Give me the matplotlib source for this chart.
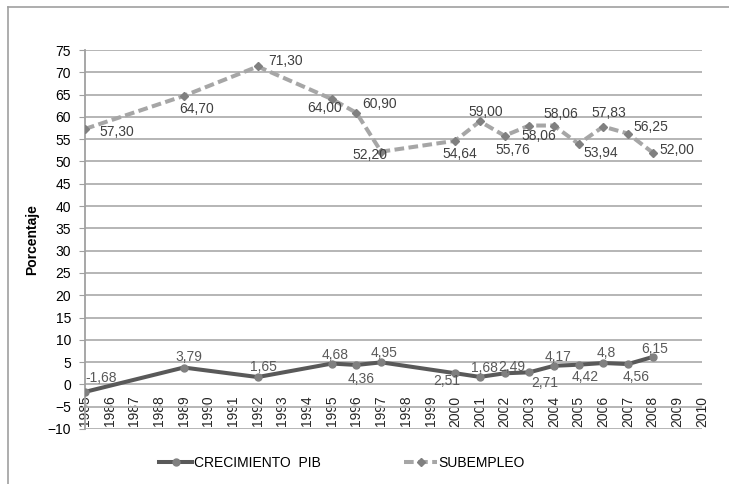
import matplotlib.pyplot as plt
from matplotlib.lines import Line2D

plt.rcParams['font.family'] = ['Liberation Sans', 'DejaVu Sans']

# Datos
años = [1985, 1989, 1992, 1995, 1996, 1997, 2000, 2001, 2002, 2003, 2004, 2005, 2006, 2007, 2008]
crecimiento_pib = [-1.68, 3.79, 1.65, 4.68, 4.36, 4.95, 2.51, 1.68, 2.49, 2.71, 4.17, 4.42, 4.8, 4.56, 6.15]
subempleo = [57.30, 64.70, 71.30, 64.00, 60.90, 52.20, 54.64, 59.00, 55.76, 58.06, 58.06, 53.94, 57.83, 56.25, 52.00]
etiquetas_pib = ['-1,68', '3,79', '1,65', '4,68', '4,36', '4,95', '2,51', '1,68', '2,49', '2,71',
                 '4,17', '4,42', '4,8', '4,56', '6,15']
etiquetas_sub = ['57,30', '64,70', '71,30', '64,00', '60,90', '52,20', '54,64', '59,00', '55,76', '58,06',
                 '58,06', '53,94', '57,83', '56,25', '52,00']
años_eje = list(range(1985, 2011))

# desplazamientos de las etiquetas (pixeles)
desp_pib = [(16, 14), (5, 11), (6, 10), (3, 9), (5, -14), (3, 9), (-8, -8), (5, 9), (7, 6), (16, -11),
            (4, 9), (7, -12), (3, 10), (8, -13), (2, 8)]
desp_sub = [(32, -3), (13, -13), (28, 5), (-7, -9), (23, 9), (-11, -3), (5, -13), (6, 9), (8, -14), (10, -10),
            (7, 12), (22, -9), (6, 14), (23, 7), (24, 3)]

fig = plt.figure(figsize=(7.29, 4.84), dpi=100)
ax = fig.add_axes([85 / 729, 1 - 429 / 484, 617 / 729, 379 / 484])

# eje horizontal cruza en 0
ax.spines['bottom'].set_position(('data', 0))
ax.spines['bottom'].set_visible(False)
ax.spines['top'].set_visible(False)
ax.spines['right'].set_visible(False)
ax.spines['left'].set_color('#a0a0a0')
ax.spines['left'].set_linewidth(1.3)

ax.plot(años, crecimiento_pib, color='#595959', linewidth=2.9, marker='o', markersize=5,
        markerfacecolor='#808080', markeredgecolor='#808080', label='CRECIMIENTO  PIB', zorder=3)
ax.plot(años, subempleo, color='#a6a6a6', linewidth=2.9, dashes=(2.4, 1.1), marker='D', markersize=4,
        markerfacecolor='#808080', markeredgecolor='#808080', label='SUBEMPLEO', zorder=3)

for x, y, t, (dx, dy) in zip(años, crecimiento_pib, etiquetas_pib, desp_pib):
    ax.annotate(t, (x, y), xytext=(dx, dy), textcoords='offset pixels', ha='center', va='center',
                fontsize=10, color='#595959')
for x, y, t, (dx, dy) in zip(años, subempleo, etiquetas_sub, desp_sub):
    ax.annotate(t, (x, y), xytext=(dx, dy), textcoords='offset pixels', ha='center', va='center',
                fontsize=10, color='#404040')

ax.set_xlim(1985, 2010)
ax.set_ylim(-10, 75)
ax.set_xticks(años_eje)
ax.set_xticklabels([str(a) for a in años_eje], rotation=90, fontsize=10)
ax.set_yticks(range(-10, 76, 5))
ax.tick_params(axis='y', labelsize=10, length=4, color='#a0a0a0', pad=6)
ax.tick_params(axis='x', length=0, pad=8, labelcolor='#262626')
ax.yaxis.grid(True, color='#b0b0b0', linewidth=1.3)
ax.set_axisbelow(True)

fig.text(32 / 729, 1 - 240 / 484, 'Porcentaje', rotation=90, fontsize=10, fontweight='bold',
         ha='center', va='center')

fig.legend(loc='center', bbox_to_anchor=(342 / 729, 1 - 463 / 484), ncol=2, frameon=False,
           fontsize=10, handlelength=2.4, handletextpad=0.1, columnspacing=6)

# marco exterior
fig.add_artist(Line2D([8 / 729, 1], [1 - 7 / 484, 1 - 7 / 484], transform=fig.transFigure,
                      color='#a0a0a0', linewidth=1.2))
fig.add_artist(Line2D([8 / 729, 8 / 729], [0, 1 - 7 / 484], transform=fig.transFigure,
                      color='#a0a0a0', linewidth=1.2))

fig.savefig('out.png', dpi=100)
